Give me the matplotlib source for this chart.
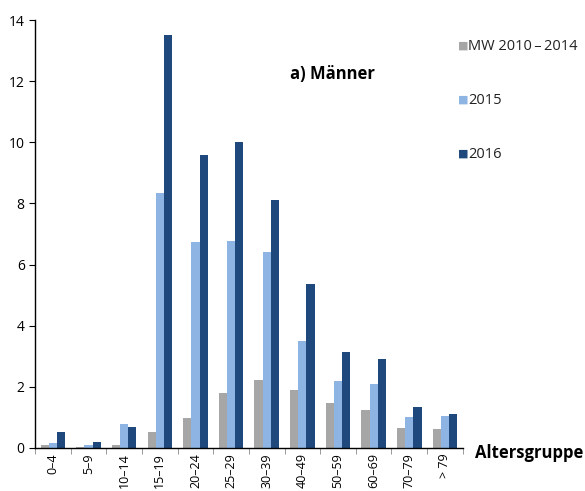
import numpy as np
import matplotlib.pyplot as plt

groups = ['0\u20134', '5\u20139', '10\u201314', '15\u201319', '20\u201324', '25\u201329',
          '30\u201339', '40\u201349', '50\u201359', '60\u201369', '70\u201379', '> 79']
mw = [0.1, 0.03, 0.1, 0.52, 0.97, 1.78, 2.22, 1.9, 1.48, 1.23, 0.66, 0.63]
y2015 = [0.15, 0.08, 0.77, 8.35, 6.75, 6.78, 6.4, 3.5, 2.2, 2.08, 1.02, 1.05]
y2016 = [0.52, 0.2, 0.67, 13.5, 9.6, 10.0, 8.1, 5.35, 3.15, 2.9, 1.33, 1.1]

c_mw = '#A6A6A6'
c_15 = '#8DB4E2'
c_16 = '#1F497D'

plt.rcParams['font.family'] = ['Open Sans', 'DejaVu Sans']

fig = plt.figure(figsize=(5.85, 4.91), dpi=100)
ax = fig.add_axes([0.06, 0.088, 0.731, 0.871])

x = np.arange(len(groups))
w = 0.23
ax.bar(x - w, mw, w, color=c_mw, label='MW 2010\u20132014')
ax.bar(x, y2015, w, color=c_15, label='2015')
ax.bar(x + w, y2016, w, color=c_16, label='2016')

ax.set_xlim(-0.5, len(groups) - 0.5)
ax.set_ylim(0, 14)
ax.set_yticks(range(0, 15, 2))
ax.tick_params(axis='y', labelsize=10, length=4, width=0.8)
ax.set_xticks(x)
ax.set_xticklabels(groups, rotation=90, fontsize=9)
ax.tick_params(axis='x', length=0, pad=4)
ax.set_xticks(np.arange(-0.5, len(groups), 1), minor=True)
ax.tick_params(axis='x', which='minor', length=4, width=0.6, color='#888888')
for s in ['top', 'right']:
    ax.spines[s].set_visible(False)
ax.spines['left'].set_linewidth(1.0)
ax.spines['bottom'].set_linewidth(1.0)

ax.text(0.596, 0.875, 'a) Männer', transform=ax.transAxes, fontsize=12,
        fontweight='bold', ha='left', va='center')
fig.text(0.812, 0.078, 'Altersgruppe', fontsize=12, fontweight='bold',
         ha='left', va='center')

# legend entries, stacked far apart like in the source
leg_y = [46, 100, 154]
for (lab, col), yy in zip([('MW 2010\u2009\u2013\u20092014', c_mw), ('2015', c_15), ('2016', c_16)], leg_y):
    fy = 1 - yy / 491
    fig.text(0.783, fy, '\u25a0', color=col, fontsize=8, ha='left', va='center',
             family='DejaVu Sans')
    fig.text(0.800, fy, lab, fontsize=10.5, ha='left', va='center', color='#222222')

fig.savefig('out.png', dpi=100)
